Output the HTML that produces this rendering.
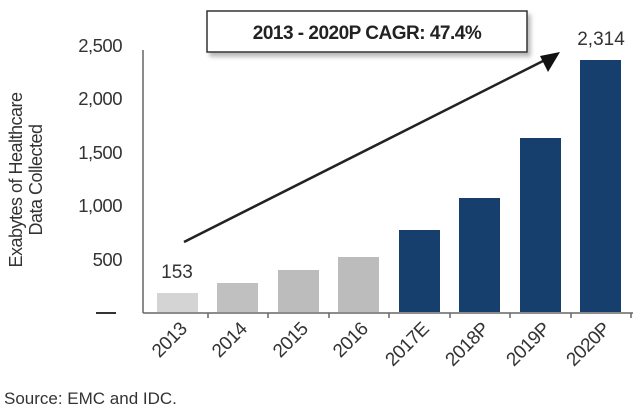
<!DOCTYPE html>
<html><head><style>body{margin:0;background:#fff}svg{display:block}</style></head><body>
<svg width="640" height="413" xmlns="http://www.w3.org/2000/svg" font-family="Liberation Sans, sans-serif">
<defs><filter id="sh" x="-10%" y="-10%" width="130%" height="150%"><feDropShadow dx="3" dy="4" stdDeviation="2" flood-color="#888" flood-opacity="0.6"/></filter></defs>
<g fill="#333" font-size="18.5" text-anchor="end" letter-spacing="-0.5">
<text x="122" y="52">2,500</text><text x="122" y="105">2,000</text><text x="122" y="159">1,500</text><text x="122" y="212">1,000</text><text x="122" y="266">500</text>
</g>
<rect x="96" y="312" width="20" height="2" fill="#333"/>
<text transform="translate(22,180) rotate(-90)" text-anchor="middle" font-size="18" fill="#333" letter-spacing="-0.5">Exabytes of Healthcare</text>
<text transform="translate(42,180) rotate(-90)" text-anchor="middle" font-size="18" fill="#333" letter-spacing="-0.5">Data Collected</text>
<line x1="143" y1="50" x2="143" y2="313" stroke="#666" stroke-width="1.5"/>
<line x1="143" y1="313" x2="633" y2="313" stroke="#666" stroke-width="1.5"/>
<g stroke="#666" stroke-width="1.5">
<line x1="208" y1="313" x2="208" y2="318"/><line x1="268" y1="313" x2="268" y2="318"/><line x1="329" y1="313" x2="329" y2="318"/><line x1="389" y1="313" x2="389" y2="318"/><line x1="450" y1="313" x2="450" y2="318"/><line x1="510" y1="313" x2="510" y2="318"/><line x1="571" y1="313" x2="571" y2="318"/><line x1="631" y1="313" x2="631" y2="318"/>
</g>
<rect x="157" y="293" width="41" height="19" fill="#d4d4d4"/>
<rect x="217" y="283" width="41" height="29" fill="#c0c0c0"/>
<rect x="278" y="270" width="41" height="42" fill="#bcbcbc"/>
<rect x="338" y="257" width="41" height="55" fill="#bcbcbc"/>
<rect x="399" y="230" width="41" height="82" fill="#173f6e"/>
<rect x="459" y="198" width="41" height="114" fill="#173f6e"/>
<rect x="520" y="138" width="41" height="174" fill="#173f6e"/>
<rect x="580" y="60" width="41" height="252" fill="#173f6e"/>
<text x="177" y="278" text-anchor="middle" font-size="19" fill="#333">153</text>
<text x="601" y="45" text-anchor="middle" font-size="19" fill="#333">2,314</text>
<line x1="184" y1="242" x2="547" y2="59" stroke="#222" stroke-width="2.5"/>
<polygon points="560,52 540,56 548,72" fill="#111"/>
<rect x="207" y="11" width="320" height="41" fill="#fff" stroke="#333" stroke-width="1.5" filter="url(#sh)"/>
<text x="367" y="39" text-anchor="middle" font-size="19" font-weight="bold" fill="#222" letter-spacing="-0.5">2013 - 2020P CAGR: 47.4%</text>
<g font-size="19" fill="#333" text-anchor="end" letter-spacing="-0.5">
<text transform="translate(188,330) rotate(-45)">2013</text>
<text transform="translate(248,330) rotate(-45)">2014</text>
<text transform="translate(309,330) rotate(-45)">2015</text>
<text transform="translate(369,330) rotate(-45)">2016</text>
<text transform="translate(430,330) rotate(-45)">2017E</text>
<text transform="translate(490,330) rotate(-45)">2018P</text>
<text transform="translate(551,330) rotate(-45)">2019P</text>
<text transform="translate(611,330) rotate(-45)">2020P</text>
</g>
<text x="4" y="404" font-size="17" fill="#333">Source: EMC and IDC.</text>
</svg>
</body></html>
